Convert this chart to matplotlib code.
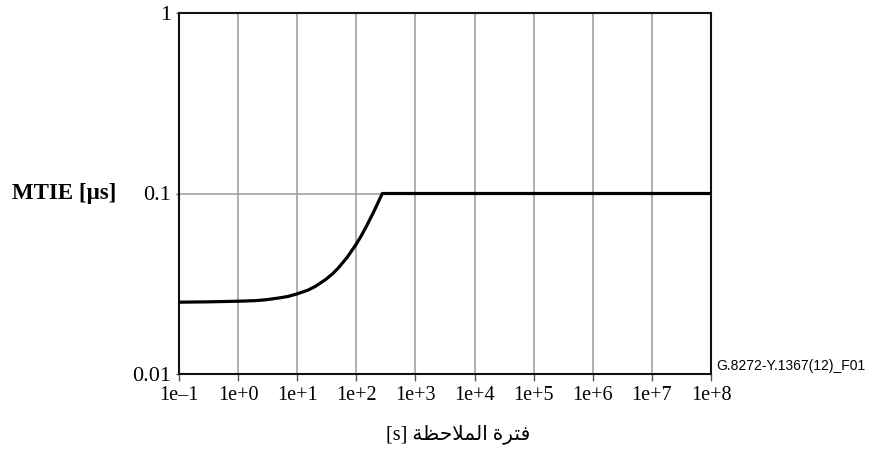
import numpy as np
import matplotlib
matplotlib.use("Agg")
import matplotlib.pyplot as plt

## donnees
tau = [0.1, 0.3, 1, 2, 3, 5, 7, 10, 15, 20, 30, 40, 50, 70, 100,
       120, 150, 200, 240, 275, 1e8]
mtie = [0.025, 0.0251, 0.0253, 0.0255, 0.0258, 0.0264, 0.0269, 0.0278,
        0.0291, 0.0305, 0.0333, 0.0360, 0.0388, 0.0443, 0.0525,
        0.0580, 0.0663, 0.080, 0.091, 0.100, 0.100]

x_ticks = [1e-1, 1e0, 1e1, 1e2, 1e3, 1e4, 1e5, 1e6, 1e7, 1e8]
x_labels = ["1e\u20131", "1e+0", "1e+1", "1e+2", "1e+3", "1e+4",
            "1e+5", "1e+6", "1e+7", "1e+8"]
y_ticks = [0.01, 0.1, 1]
y_labels = ["0.01", "0.1", "1"]

# arabe en formes de presentation, ordre visuel (pas de shaping dans matplotlib)
mot1 = "\uFE93\uFEAE\uFE98\uFED3"                       # فترة
mot2 = "\uFE94\uFEC8\uFEA3\uFEFC\uFEE4\uFEDF\uFE8D"     # الملاحظة
x_title = "[s] " + mot2 + " " + mot1

serif = ["Liberation Serif", "DejaVu Serif"]

##figure
fig = plt.figure(figsize=(8.89, 4.54), dpi=100)
W, H = 889, 454
ax = fig.add_axes([179 / W, 1 - 374 / H, (711 - 179) / W, (374 - 13) / H])

ax.plot(tau, mtie, color="black", lw=2.3, solid_capstyle="butt",
        solid_joinstyle="round", zorder=3)

ax.set_xscale("log")
ax.set_yscale("log")
ax.set_xlim(1e-1, 1e8)
ax.set_ylim(0.01, 1)
ax.set_xticks(x_ticks)
ax.set_xticklabels(x_labels, fontfamily=serif, fontsize=14.5)
ax.set_yticks(y_ticks)
ax.set_yticklabels(y_labels, fontfamily=serif, fontsize=16)
ax.minorticks_off()
ax.tick_params(axis="x", length=5, width=1, color="#555555", pad=4)
ax.tick_params(axis="y", length=2.5, width=1, color="#555555", pad=3)

ax.grid(True, which="major", color="#999999", lw=1.1)
for s in ax.spines.values():
    s.set_linewidth(1.5)
    s.set_color("#111111")

fig.text(12 / W, 1 - 194 / H, "MTIE [\u03bcs]", fontfamily=serif,
         fontweight="bold", fontsize=16.5, ha="left", va="center")
fig.text(458 / W, 1 - 434 / H, x_title, fontfamily=serif + ["DejaVu Sans"],
         fontsize=14.5, ha="center", va="center")
fig.text(716 / W, 1 - 366 / H, "G.8272-Y.1367(12)_F01",
         fontfamily="Liberation Sans", fontsize=10, ha="left", va="center")

fig.savefig("out.png", dpi=100)
